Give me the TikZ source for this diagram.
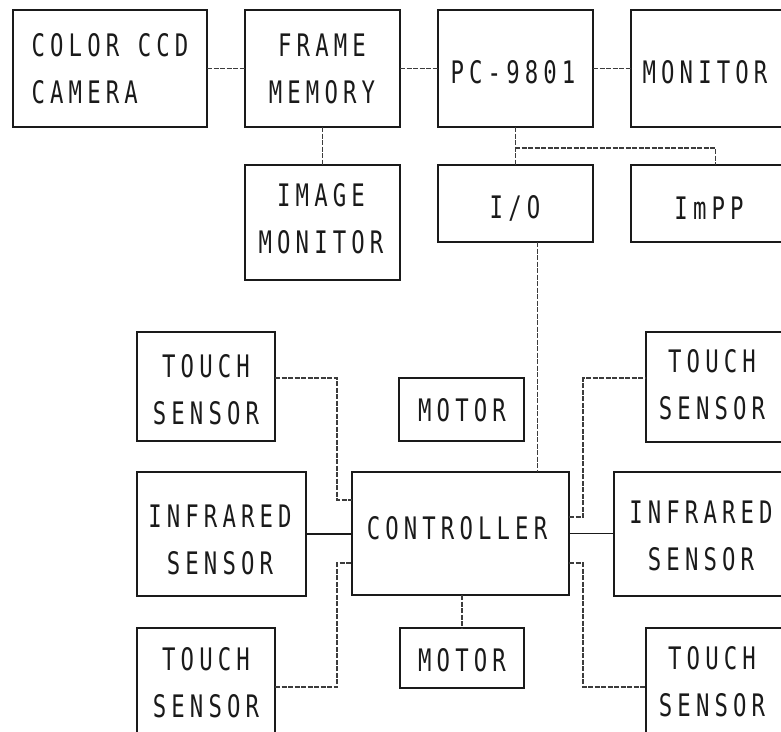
\documentclass[tikz,border=0pt]{standalone}
\usepackage{fontspec}
\newfontfamily\lab[FakeStretch=0.72,LetterSpace=16.5]{DejaVu Sans Mono}
\usetikzlibrary{calc}
\definecolor{ink}{HTML}{1A1A1A}
\definecolor{wire}{HTML}{3C3C3C}
\newcommand\mkbox[5]{\node[box, minimum width={#4-#2}, minimum height={#5-#3}] (#1) at ({(#2+#4)/2},{(#3+#5)/2}) {};}
\begin{document}
\begin{tikzpicture}[x=1pt,y=-1pt,
  box/.style={draw=ink, line width=2.4pt, inner sep=0pt, outer sep=0pt},
  txt/.style={font=\lab\fontsize{31}{47}\selectfont, text=ink, inner sep=0pt, align=center},
  conn/.style={draw=wire, line width=1.2pt, dash pattern=on 5pt off 1.5pt},
  solidconn/.style={draw=ink, line width=1.4pt}]
\useasboundingbox (0,0) rectangle (781,731);
\fill[white] (0,0) rectangle (781,731);
\clip (0,0) rectangle (781,731);
% boxes
\mkbox{ccd}{13}{10}{207}{127}
\mkbox{fm}{245}{10}{400}{127}
\mkbox{pc}{438}{10}{593}{127}
\mkbox{mon}{631}{10}{800}{127}
\mkbox{im}{245}{165}{400}{280}
\mkbox{io}{438}{165}{593}{242}
\mkbox{impp}{631}{165}{800}{242}
\mkbox{tsl1}{137}{332}{275}{441}
\mkbox{irl}{137}{472}{306}{596}
\mkbox{tsl2}{137}{628}{275}{760}
\mkbox{ctrl}{352}{472}{569}{595}
\mkbox{mot1}{399}{378}{524}{441}
\mkbox{mot2}{400}{628}{524}{688}
\mkbox{tsr1}{646}{332}{800}{442}
\mkbox{irr}{614}{472}{800}{596}
\mkbox{tsr2}{646}{628}{800}{760}
% texts
\node[txt, align=left] (ccd-t) at (110,68.5) {COLOR CCD\\CAMERA};
\node[txt] (fm-t) at (322,68.5) {FRAME\\MEMORY};
\node[txt] (pc-t) at (513,72) {PC-9801};
\node[txt] (mon-t) at (705,72) {MONITOR};
\node[txt] (im-t) at (321,219) {IMAGE\\MONITOR};
\node[txt] (io-t) at (515,208) {I/O};
\node[txt] (impp-t) at (709,208) {ImPP};
\node[txt] (tsl1-t) at (206,390) {TOUCH\\SENSOR};
\node[txt] (irl-t) at (220,540) {INFRARED\\SENSOR};
\node[txt] (tsl2-t) at (206,683) {TOUCH\\SENSOR};
\node[txt] (ctrl-t) at (457,528) {CONTROLLER};
\node[txt] (mot1-t) at (462,410) {MOTOR};
\node[txt] (mot2-t) at (462,660) {MOTOR};
\node[txt] (tsr1-t) at (712,385) {TOUCH\\SENSOR};
\node[txt] (irr-t) at (701,536) {INFRARED\\SENSOR};
\node[txt] (tsr2-t) at (712,682) {TOUCH\\SENSOR};
% connectors
\draw[conn] (ccd.east) -- (fm.west);
\draw[conn] (fm.east) -- (pc.west);
\draw[conn] (pc.east) -- (mon.west);
\draw[conn] (fm.south) -- (im.north);
\draw[conn] (pc.south) -- (io.north);
\coordinate (br) at (515,148);
\draw[conn] (br) -| (impp.north);
\draw[conn] ([xshift=22pt]io.south) -- ([xshift=22pt]io.south |- ctrl.north);
\draw[conn] (ctrl.south -| mot2.north) -- (mot2.north);
% left sensors
\draw[conn] ([yshift=8.5pt]tsl1.east) -| ($(ctrl.west)+(-15,-33.5)$) -- ($(ctrl.west)+(0,-33.5)$);
\draw[solidconn] (irl.east) -- (irl.east -| ctrl.west);
\draw[conn] ([yshift=7pt]tsl2.east) -| ($(ctrl.west)+(-15,29.5)$) -- ($(ctrl.west)+(0,29.5)$);
% right sensors
\draw[conn] ($(ctrl.east)+(0,-16.5)$) -- ($(ctrl.east)+(14,-16.5)$) |- ([yshift=9pt]tsr1.west);
\draw[solidconn] (ctrl.east) -- (ctrl.east -| irr.west);
\draw[conn] ($(ctrl.east)+(0,29.5)$) -- ($(ctrl.east)+(14,29.5)$) |- ([yshift=7pt]tsr2.west);
\end{tikzpicture}
\end{document}
